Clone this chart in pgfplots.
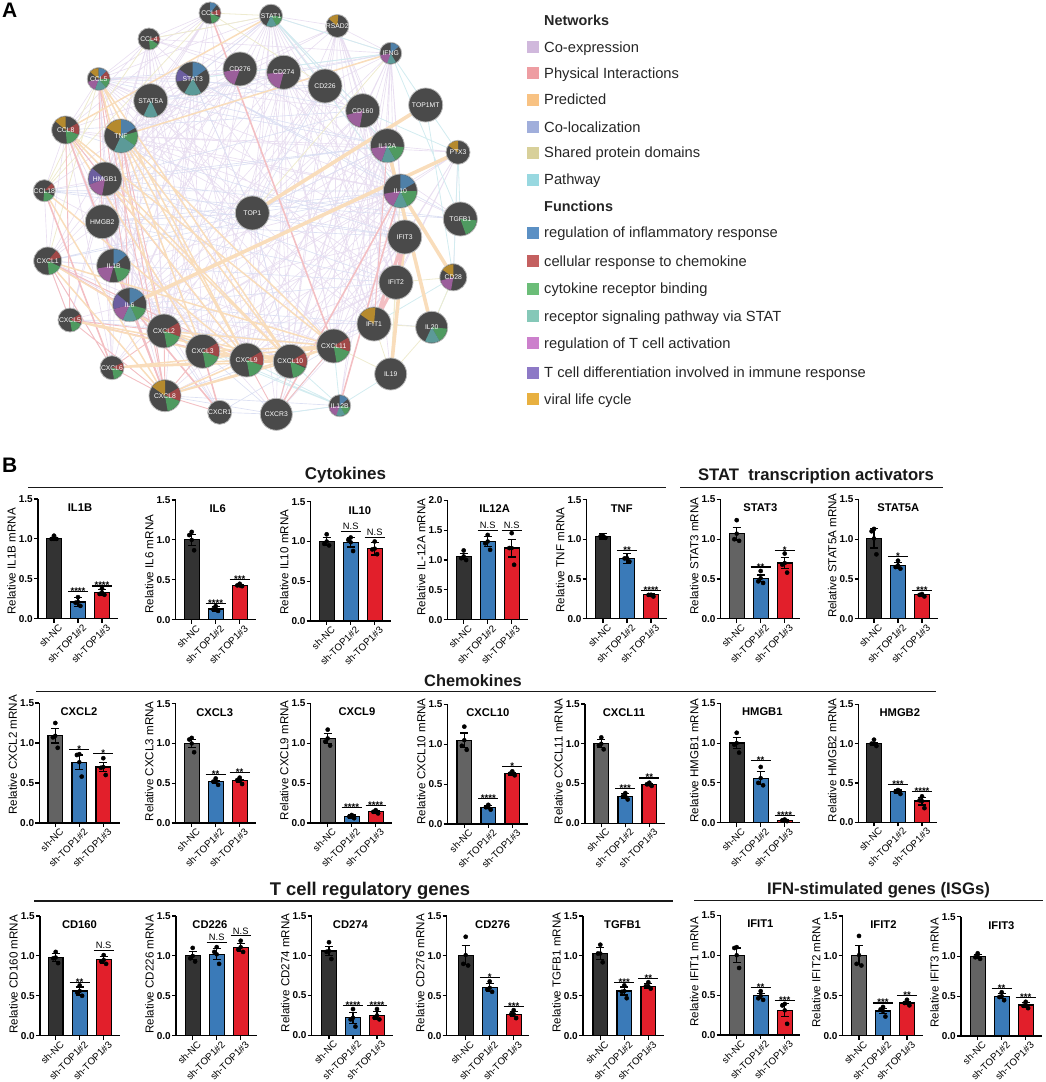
\documentclass[border=0pt]{standalone}
\usepackage{fontspec}
\setmainfont{Liberation Sans}
\usepackage{pgfplots}
\pgfplotsset{compat=1.18}
% ---------- colours
\definecolor{dk}{HTML}{333333}\definecolor{gy}{HTML}{636363}\definecolor{bl}{HTML}{3A7AB8}\definecolor{rd}{HTML}{E21F2B}
\definecolor{eLil}{HTML}{E9DFF1}\definecolor{eBlu}{HTML}{DCE0F3}\definecolor{ePnk}{HTML}{F3BFC3}\definecolor{eOrg}{HTML}{F9DDBB}\definecolor{eYel}{HTML}{EEEBCF}\definecolor{eCya}{HTML}{D3ECF0}
\definecolor{nodeF}{HTML}{4A4A4A}\definecolor{nodeE}{HTML}{B8B8B8}
\definecolor{B}{HTML}{4F80A8}\definecolor{R}{HTML}{A04848}\definecolor{G}{HTML}{4F9A60}\definecolor{T}{HTML}{5C9A98}\definecolor{P}{HTML}{9B5F9B}\definecolor{V}{HTML}{6C5FA0}\definecolor{O}{HTML}{B58A2E}
\definecolor{eLegA}{HTML}{D0B8DC}\definecolor{eLegB}{HTML}{EE9DA2}\definecolor{eLegC}{HTML}{F8C283}\definecolor{eLegD}{HTML}{A0AEDB}\definecolor{eLegE}{HTML}{D8D09A}\definecolor{eLegF}{HTML}{98D8E0}
\definecolor{fLegA}{HTML}{5B90C4}\definecolor{fLegB}{HTML}{C46060}\definecolor{fLegC}{HTML}{6BBD78}\definecolor{fLegD}{HTML}{85C8B8}\definecolor{fLegE}{HTML}{CC80CC}\definecolor{fLegF}{HTML}{8D79C6}\definecolor{fLegG}{HTML}{E8B040}
% ---------- fonts (1pt = 1 reference pixel)
\newcommand\fs[1]{\fontsize{#1}{#1}\selectfont}
% ---------- network
\pgfkeys{/pgf/wa/.initial=0,/pgf/wb/.initial=0}
\pgfdeclareplotmark{wedge}{\pgfpathmoveto{\pgfpointorigin}\pgfpathlineto{\pgfpointpolar{\pgfkeysvalueof{/pgf/wa}}{\pgfplotmarksize}}\pgfpatharc{\pgfkeysvalueof{/pgf/wa}}{\pgfkeysvalueof{/pgf/wb}}{\pgfplotmarksize}\pgfpathclose\pgfusepathqfill}
\newcommand\Nn[4]{\expandafter\gdef\csname x#1\endcsname{#2}\expandafter\gdef\csname y#1\endcsname{#3}\expandafter\gdef\csname r#1\endcsname{#4}}
\Nn{CCL1}{210}{13}{11}\Nn{CCL4}{149}{39}{11}\Nn{CCL5}{98.7}{79}{11.5}\Nn{STAT3}{192.7}{78.7}{17}\Nn{CD276}{240}{69}{17}\Nn{STAT5A}{150.7}{100.7}{17}\Nn{TNF}{121}{136}{17}\Nn{CCL8}{65.7}{130}{14}\Nn{HMGB1}{105}{179}{17}\Nn{CCL18}{44.3}{190.7}{11}
\Nn{STAT1}{271}{15.7}{11.5}\Nn{RSAD2}{337.3}{26}{11.5}\Nn{IFNG}{390.7}{53.3}{11}\Nn{CD274}{283.7}{72.3}{17}\Nn{CD226}{325}{86}{17}\Nn{CD160}{362.7}{110.7}{17}\Nn{TOP1MT}{425.7}{105}{17}\Nn{IL12A}{387.3}{145.7}{17}\Nn{PTX3}{458}{152.3}{12}\Nn{IL10}{400.3}{191}{17}\Nn{TOP1}{252.3}{213}{17}\Nn{TGFB1}{460.3}{219}{17}\Nn{IFIT3}{404.7}{237}{17}\Nn{CD28}{453.3}{277.3}{13.5}\Nn{IFIT2}{396}{282.3}{17}
\Nn{HMGB2}{102.3}{221.7}{17}\Nn{CXCL1}{47.7}{261}{14}\Nn{IL1B}{113.7}{265.7}{17}\Nn{IL6}{129.7}{304.7}{17}\Nn{CXCL5}{70}{320}{12}\Nn{CXCL2}{164}{331}{17}\Nn{CXCL3}{202.7}{351.3}{17}\Nn{CXCL9}{246.7}{360}{17}\Nn{CXCL10}{290.3}{361.3}{17}\Nn{CXCL11}{333.7}{346}{17}\Nn{IFIT1}{374}{324}{17}\Nn{IL20}{431.7}{327.3}{16}\Nn{IL19}{390.7}{374}{16}\Nn{CXCL6}{112}{367.7}{12}\Nn{CXCL8}{165}{395.7}{16}\Nn{CXCR1}{219.7}{412.3}{12}\Nn{CXCR3}{276.3}{414.3}{16}\Nn{IL12B}{339.7}{405.7}{11}
\gdef\pts{}
\newcommand\E[2]{\xdef\pts{\pts (\csname x#1\endcsname,\csname y#1\endcsname)(\csname x#2\endcsname,\csname y#2\endcsname)(nan,nan) }}
\newcommand\Es[2]{\foreach\tgt in {#2}{\E{#1}{\tgt}}}
\newcommand\Eflush[1]{\edef\tmp{\noexpand\addplot[unbounded coords=jump,#1] coordinates {\pts};}\tmp\gdef\pts{}}
\newcommand\W[3]{\pgfmathsetmacro\wr{\nr-0.6}\edef\tmp{\noexpand\addplot[only marks,mark=wedge,mark size=\wr pt,color=#1,/pgf/wa=#2,/pgf/wb=#3] coordinates {(\nx,\ny)};}\tmp}
\newcommand\Nd[2]{\edef\nx{\csname x#1\endcsname}\edef\ny{\csname y#1\endcsname}\edef\nr{\csname r#1\endcsname}%
 \edef\tmp{\noexpand\addplot[only marks,mark=*,mark size=\nr pt,mark options={fill=nodeF,draw=nodeE,line width=0.8pt}] coordinates {(\nx,\ny)};}\tmp #2}
\newcommand\Nl[1]{\foreach\nm in {#1}{\edef\nx{\csname x\nm\endcsname}\edef\ny{\csname y\nm\endcsname}\edef\tmp{\noexpand\node[text=white,font=\noexpand\fs{6.8},inner sep=0pt] at (axis cs:\nx,\ny) {\nm};}\tmp}}
% ---------- legend
\newcommand\Lg[3]{\addplot[only marks,mark=square*,mark size=5.4pt,color=#1] coordinates {(532.8,#2)};\node[anchor=base west,inner sep=0pt,font=\fs{14.7},text=black!85,yshift=-5.3pt] at (axis cs:544,#2) {#3};}
% ---------- section header
\newcommand\Sec[6]{\addplot[black!90,line width=1.4pt] coordinates {(#3,#5)(#4,#5)};\node[font=\bfseries\fs{17},inner sep=0pt,anchor=base,text=black!90] at (axis cs:#1,#2) {#6};}
% ---------- panels
\def\tdx{0}
\pgfplotsset{panel/.style={scale only axis,clip=false,axis x line=bottom,axis y line=left,
 axis line style={-,line width=1.2pt,black},tick style={line width=1.1pt,black},major tick length=4pt,tick align=outside,
 xtick={0,1,2},xticklabels={sh-NC,sh-TOP1\#2,sh-TOP1\#3},
 xticklabel style={font=\fs{9.8},rotate=45,anchor=north east,inner sep=0pt,xshift=2.5pt,yshift=-3pt},
 ytick distance=0.5,
 yticklabel style={font=\bfseries\fs{10},inner sep=1pt,/pgf/number format/.cd,fixed,fixed zerofill,precision=1,assume math mode=true},
 title style={at={(rel axis cs:0.525,1)},anchor=center,yshift=-14.5pt,xshift=\tdx pt,font=\bfseries\fs{11.2},inner sep=0pt}}}
\newcommand\pstart[9]{\pgfmathsetmacro\pw{#3-#1}\pgfmathsetmacro\ph{#5-#4}\pgfmathsetmacro\pb{1082-#5}\pgfmathsetmacro\pxa{(#1-#2)/24}\pgfmathsetmacro\pxb{(#3-#2)/24}%
 \begin{axis}[panel,at={(#1pt,\pb pt)},anchor=south west,width=\pw pt,height=\ph pt,xmin=\pxa,xmax=\pxb,ymin=0,ymax=#6,title={#7},ylabel={#8},
 every axis y label/.style={shift={(-26.5pt,#9pt)},at={(rel axis cs:0,0)},rotate=90,anchor=west,inner sep=0pt,font=\fs{11.6}}]}
\newcommand\pend{\end{axis}}
\newcommand\bb[7]{\pgfmathsetmacro\xa{#1-0.1}\pgfmathsetmacro\xb{#1+0.1}%
 \addplot[ybar,bar shift=0pt,bar width=14.8pt,fill=#2,draw=black,line width=1.2pt] coordinates {(#1,#3)};
 \addplot[only marks,mark=none,draw=none,error bars/.cd,y dir=both,y explicit,error bar style={line width=1.1pt,black},error mark options={rotate=90,mark size=4pt,line width=1.1pt,black}] coordinates {(#1,#3) +- (0,#4)};
 \edef\tmp{\noexpand\addplot[only marks,mark=*,mark size=2.1pt,black] coordinates {(#1,#5)(\xa,#6)(\xb,#7)};}\tmp}
\newcommand\st[3]{\pgfmathsetmacro\xa{#1-0.42}\pgfmathsetmacro\xb{#1+0.42}\edef\tmp{\noexpand\addplot[black,line width=1.1pt] coordinates {(\xa,#2)(\xb,#2)};}\tmp
 \node[anchor=base,font=\bfseries\fs{9.6},inner sep=0pt,yshift=-3pt] at (axis cs:#1,#2) {#3};}
\newcommand\ns[2]{\pgfmathsetmacro\xa{#1-0.42}\pgfmathsetmacro\xb{#1+0.42}\edef\tmp{\noexpand\addplot[black,line width=1.1pt] coordinates {(\xa,#2)(\xb,#2)};}\tmp
 \node[anchor=base,font=\fs{9.3},inner sep=0pt,yshift=1.6pt] at (axis cs:#1,#2) {N.S};}
\pgfplotsset{master/.style={scale only axis,at={(0,0)},anchor=south west,width=1045pt,height=1082pt,xmin=0,xmax=1045,ymin=0,ymax=1082,y dir=reverse,hide axis,clip=false}}
\begin{document}
\begin{tikzpicture}
\useasboundingbox (0,0) rectangle (1045pt,1082pt);
\begin{axis}[master]
% co-expression
\Es{CCL1}{CCL4,CCL5,STAT3,CCL8,TNF,CD276,STAT5A,CXCL9,CXCL2,HMGB1}
\Es{CCL4}{CCL5,STAT3,STAT5A,TNF,CCL8,IL1B,IL6,CXCL2,CXCL3,CXCL9,CXCL10,HMGB1,CD160,CD226,IFNG,STAT1}
\Es{CCL5}{STAT3,STAT5A,TNF,CCL8,HMGB1,IL1B,IL6,CXCL2,CXCL3,CXCL9,CXCL10,CXCL11,CD274,CD160,IFIT3,IFIT2,IFIT1,IL10,STAT1}
\Es{STAT1}{STAT3,STAT5A,TNF,CD274,CD226,CD160,IL12A,IL10,IFIT3,IFIT2,IFIT1,CXCL9,CXCL10,CXCL11,IL6,IL1B,HMGB1,CXCL3,CXCL2,RSAD2,IFNG,TOP1}
\Es{RSAD2}{IFIT3,IFIT2,IFIT1,CXCL9,CXCL10,CXCL11,IFNG,CD274,CD276,IL10,TNF,CD160,IL12A,TOP1,CD226}
\Es{IFNG}{CD274,CD160,CD226,IL12A,IL10,IFIT3,IFIT2,IFIT1,CXCL9,CXCL10,CXCL11,IL12B,TNF,IL6}
\Es{CD274}{CXCL9,CXCL10,CXCL11,IL10,IFIT3,IFIT2,IFIT1,IL6,IL1B,TNF,CXCL2,CXCL3,HMGB1,TOP1,CXCR3}
\Es{CD276}{CXCL1,IL1B,IL6,CXCL2,CXCL3,TNF,HMGB1,HMGB2,IFIT1,TGFB1}
\Es{CD226}{CD160,IL12A,CXCL9,CXCL10,IFIT1,CXCL2,IL6,CXCL6}
\Es{CD160}{IL12A,IL10,IFIT3,IFIT2,IFIT1,CXCL9,CXCL10,CXCL11,CXCR3,CXCL3,CXCL6,TOP1,IL19}
\Es{IL12A}{CXCL9,CXCL10,CXCL11,IFIT1,CXCR3,TNF,IL6,CXCL3,CXCL2,IL12B,PTX3,TOP1}
\Es{PTX3}{IL10,IFIT3,IFIT2,CXCL11,CXCL2,IL6,TNF,CD28,IFIT1}
\Es{IL10}{CXCL9,CXCL10,CXCL11,IL6,IL1B,CXCL2,CXCL3,TNF,IFIT1,IFIT2,CCL8,CXCL8,TGFB1}
\Es{IFIT3}{IFIT2,IFIT1,CXCL9,CXCL10,CXCL11,CXCL2,TNF,IL6,CXCL3}
\Es{IFIT2}{CXCL9,CXCL10,CXCL11,CXCL3,CXCL8,TNF,CXCR3}
\Es{TNF}{STAT3,STAT5A,CCL8,HMGB1,HMGB2,IL1B,IL6,CXCL1,CXCL2,CXCL3,CXCL5,CXCL6,CXCL8,CXCL9,CXCL10,CXCL11,IFIT1,CCL18}
\Es{STAT3}{STAT5A,HMGB1,HMGB2,IL1B,IL6,CXCL1,CXCL2,CXCL3,CXCL8,CXCL9,CD276,TOP1,IFIT1}
\Es{STAT5A}{HMGB1,IL6,CXCL2,CXCL3,CXCL9,CXCL11,CD274,TOP1,IL1B,CCL8}
\Es{CCL8}{CCL18,HMGB1,HMGB2,CXCL1,CXCL2,CXCL3,CXCL5,CXCL6,CXCL9,CXCL10,CXCL11,IL1B,IL6}
\Es{HMGB1}{HMGB2,CCL18,IL1B,IL6,CXCL2,CXCL5,CXCL6,CXCL8,CXCL3,CXCR1}
\Es{HMGB2}{CCL18,CXCL1,IL1B,IL6,CXCL2,CXCL6,CXCL8,CXCR1,CXCR3}
\Es{CXCL1}{CCL18,CXCL5,CXCL6,IL1B,IL6,CXCL2,CXCL3,CXCL8,CXCL9,CXCL10}
\Es{CXCL11}{CXCL9,CXCL10,CXCL3,CXCL2,IL6,IL1B,IFIT1}
\Es{IL6}{IL1B,CXCL2,CXCL3,CXCL5,CXCL6,CXCL8,CXCL9,CXCL10,CXCR1}
\Es{TOP1}{CXCL3,CXCL9,CXCL10,CXCR3,IL6,HMGB2}
\Eflush{color=eLil,line width=0.65pt}
% co-localization
\Es{TOP1}{HMGB2,IL10,IFIT3,HMGB1,CXCL1,STAT3,IL12A,CD226,CXCL10}
\Es{HMGB2}{IFIT3,IL10,IFIT2}
\Es{HMGB1}{CD160,IL12A,TGFB1,IFIT2}
\Es{CXCL1}{IFIT2,IL10}
\Es{CCL18}{TGFB1,IL10,IL12A,IFIT3}
\Es{STAT3}{IL10,IFNG,CD160,TGFB1,STAT1}
\Es{STAT5A}{IL12A,CD226,IFNG}
\Es{CCL5}{CD276,IL12A,CD226}
\Es{CCL8}{CD160,IFIT3}
\Es{IL6}{IFIT2,IL20}
\Es{CXCL5}{IFIT1,CXCL11}
\Es{CXCL8}{CXCL11,IL12B,CXCR3,IFIT1}
\Es{CXCR1}{CXCL11,CXCR3,CXCL2}
\Es{CXCR3}{IL12B,CXCL3}
\Eflush{color=eBlu,line width=0.65pt}
% pathway
\Es{IFNG}{TOP1MT,TGFB1,PTX3,STAT3,STAT1}
\Es{PTX3}{TGFB1,TOP1MT,CD160,CD28}
\Es{IL12B}{CXCL9,CXCL10,CXCL11,CXCR3,IL19,CXCL3,CXCL2}
\Es{STAT1}{IL12A,CD160,IL10}
\Es{CD28}{TOP1MT,IL20,IFIT1}
\Es{CXCR3}{CXCL10,CXCL11}
\Eflush{color=eCya,line width=0.8pt}
% shared domains
\Es{IL19}{IL20,IL10,CXCL11,IFIT2}
\Es{IFIT1}{IFIT3,IL19,IL20}
\Es{CCL1}{STAT1,CCL18,CD226}
\Es{CCL4}{STAT1,CCL18}
\Es{CCL5}{CCL18,CXCL1}
\Es{TOP1}{IFNG}
\Es{CD28}{IL20,IFIT2}
\Eflush{color=eYel,line width=0.8pt}
% physical, thin
\Es{CCL5}{HMGB2,IL6,CXCL2,CXCL8}
\Es{CCL8}{CXCL5,CXCL3,CXCL9}
\Es{TNF}{IL6,CXCL2,CXCL8}
\Es{CXCL1}{CXCL2,CXCL3,CXCL9,CXCL6,CXCL5}
\Es{CXCL5}{CXCL2,CXCL3,CXCL9,CXCL8}
\Es{CXCL6}{CXCL2,CXCL8}
\Es{IL1B}{IL6,CXCL8}
\Es{CXCL8}{CXCR1,CXCL2,CXCL3}
\Es{CXCR3}{CXCL9,CXCL10,CXCL11}
\Es{IFIT1}{IL12A}
\Eflush{color=ePnk,line width=0.9pt}
\Es{CXCR1}{CXCL3,IL6}
\Es{IL10}{IL12B,CXCR3}
\Es{CCL1}{CXCL11}
\Es{CCL8}{CXCL8}
\Es{CCL18}{CXCL6}
\Eflush{color=ePnk,line width=1.6pt}
% predicted, thin
\Es{CCL5}{CXCL2,CXCL9,CXCL10}
\Es{CCL8}{CXCL3,CXCL11,CXCL10}
\Es{TNF}{CXCL10,CXCL11,CXCL9,CXCL3}
\Es{HMGB1}{CXCL10,CXCL9}
\Es{CXCL1}{CXCL8,CXCL11,CXCL2}
\Es{CCL18}{CXCL8,CXCL9}
\Es{CXCL8}{CXCL10,CXCL9,CXCL11}
\Es{CXCL6}{CXCL10,CXCL11,CXCL9}
\Es{CXCL5}{CXCL3,CXCL10}
\Es{CXCL2}{CXCL3,CXCL9,CXCL10,CXCL11}
\Es{CXCL3}{CXCL9,CXCL10,CXCL11}
\Es{CXCL9}{CXCL10,CXCL11}
\Es{CXCL10}{CXCL11}
\Es{STAT1}{CCL8}
\Es{IFNG}{TNF}
\Eflush{color=eOrg,line width=1.5pt}
% predicted, thick
\Es{TOP1}{TOP1MT}
\Es{IL6}{PTX3}
\Es{IFIT3}{IL19}
\Es{IL12A}{IL20}
\Es{IL10}{CD28}
\Eflush{color=eOrg,line width=3.6pt}
\Es{IFIT1}{IFIT2}
\Es{IFIT2}{IFIT3}
\Es{IFIT1}{IFIT3}
\Eflush{color=ePnk,line width=3.2pt}
% nodes
\Nd{CCL1}{\W{B}{90}{50}\W{R}{20}{-15}\W{G}{-25}{-80}}
\Nd{CCL4}{\W{R}{15}{-15}\W{G}{-30}{-85}}
\Nd{CCL5}{\W{O}{140}{90}\W{B}{90}{45}\W{R}{45}{0}\W{G}{0}{-50}\W{T}{-50}{-110}\W{P}{-110}{-165}}
\Nd{STAT3}{\W{B}{90}{35}\W{T}{-60}{-120}\W{V}{190}{145}}
\Nd{CD276}{\W{P}{190}{250}}
\Nd{STAT5A}{\W{T}{-65}{-115}}
\Nd{TNF}{\W{O}{150}{90}\W{B}{90}{30}\W{G}{15}{-35}\W{T}{-35}{-115}}
\Nd{CCL8}{\W{O}{140}{90}\W{R}{30}{-20}\W{G}{-20}{-85}}
\Nd{HMGB1}{\W{V}{200}{140}\W{P}{260}{200}}
\Nd{CCL18}{\W{R}{45}{15}\W{G}{-30}{-95}}
\Nd{STAT1}{\W{G}{-5}{-60}\W{T}{-60}{-115}}
\Nd{RSAD2}{\W{O}{140}{85}}
\Nd{IFNG}{\W{B}{90}{40}\W{T}{-60}{-115}\W{P}{250}{190}}
\Nd{CD274}{\W{P}{185}{255}}
\Nd{CD226}{}
\Nd{CD160}{\W{P}{195}{260}}
\Nd{TOP1MT}{}
\Nd{IL12A}{\W{P}{190}{250}\W{T}{250}{300}\W{G}{300}{355}}
\Nd{PTX3}{\W{O}{145}{90}}
\Nd{IL10}{\W{B}{90}{30}\W{G}{0}{-65}\W{T}{-65}{-115}\W{P}{245}{190}}
\Nd{TOP1}{}
\Nd{TGFB1}{\W{G}{-5}{-70}}
\Nd{IFIT3}{}
\Nd{CD28}{\W{O}{145}{90}\W{P}{260}{195}}
\Nd{IFIT2}{}
\Nd{HMGB2}{}
\Nd{CXCL1}{\W{R}{50}{15}\W{G}{-25}{-85}}
\Nd{IL1B}{\W{B}{90}{40}\W{G}{-15}{-75}\W{P}{255}{190}}
\Nd{IL6}{\W{B}{90}{35}\W{G}{-15}{-65}\W{T}{-65}{-115}\W{P}{245}{195}\W{V}{195}{140}}
\Nd{CXCL5}{\W{R}{30}{-15}\W{G}{-20}{-80}}
\Nd{CXCL2}{\W{R}{30}{-20}\W{G}{-20}{-80}}
\Nd{CXCL3}{\W{R}{30}{-20}\W{G}{-20}{-80}}
\Nd{CXCL9}{\W{R}{30}{-20}\W{G}{-20}{-80}}
\Nd{CXCL10}{\W{R}{30}{-20}\W{G}{-25}{-80}}
\Nd{CXCL11}{\W{R}{30}{-20}\W{G}{-20}{-80}}
\Nd{IFIT1}{\W{O}{145}{85}}
\Nd{IL20}{\W{G}{-5}{-60}\W{T}{-60}{-115}}
\Nd{IL19}{}
\Nd{CXCL6}{\W{R}{25}{-15}\W{G}{-20}{-80}}
\Nd{CXCL8}{\W{O}{145}{90}\W{R}{30}{-20}\W{G}{-20}{-80}}
\Nd{CXCR1}{}
\Nd{CXCR3}{}
\Nd{IL12B}{\W{B}{90}{40}\W{G}{-10}{-60}\W{T}{-60}{-115}\W{P}{250}{190}}
% legend squares
\Lg{eLegA}{47}{Co-expression}
\Lg{eLegB}{73}{Physical Interactions}
\Lg{eLegC}{99.6}{Predicted}
\Lg{eLegD}{127}{Co-localization}
\Lg{eLegE}{152.6}{Shared protein domains}
\Lg{eLegF}{179.4}{Pathway}
\Lg{fLegA}{232.4}{regulation of inflammatory response}
\Lg{fLegB}{261}{cellular response to chemokine}
\Lg{fLegC}{288.5}{cytokine receptor binding}
\Lg{fLegD}{316}{receptor signaling pathway via STAT}
\Lg{fLegE}{343}{regulation of T cell activation}
\Lg{fLegF}{372.5}{T cell differentiation involved in immune response}
\Lg{fLegG}{399}{viral life cycle}
% section headers
\Sec{345.5}{479.5}{28}{666}{487.3}{Cytokines}
\Sec{816}{480}{680}{943}{487.3}{\fs{16.7}STAT~~transcription activators}
\Sec{473}{686.7}{36}{936}{691.7}{\fs{16.4}Chemokines}
\Sec{370}{895.7}{34}{672.7}{901}{\fs{18.4}T cell regulatory genes}
\Sec{878.5}{894}{694}{1043}{900.7}{\fs{16.7}IFN-stimulated genes (ISGs)}
% panel letters
\node[font=\bfseries\fs{21},anchor=base west,inner sep=0pt] at (axis cs:2,17.5) {A};
\node[font=\bfseries\fs{21},anchor=base west,inner sep=0pt] at (axis cs:2,472.5) {B};
\node[anchor=base west,inner sep=0pt,font=\bfseries\fs{14.4},text=black!85,yshift=-5.3pt] at (axis cs:544,20.7) {Networks};
\node[anchor=base west,inner sep=0pt,font=\bfseries\fs{14.4},text=black!85,yshift=-5.3pt] at (axis cs:544,206) {Functions};
\end{axis}
% node labels sit on a second hidden axis so that they lie above the node marks
\begin{axis}[master]
\Nl{CCL1,CCL4,CCL5,STAT3,CD276,STAT5A,TNF,CCL8,HMGB1,CCL18,STAT1,RSAD2,IFNG,CD274,CD226,CD160,TOP1MT,IL12A,PTX3,IL10,TOP1,TGFB1,IFIT3,CD28,IFIT2,HMGB2,CXCL1,IL1B,IL6,CXCL5,CXCL2,CXCL3,CXCL9,CXCL10,CXCL11,IFIT1,IL20,IL19,CXCL6,CXCL8,CXCR1,CXCR3,IL12B}
\end{axis}
% ---- row 1
\def\tdx{0}\pstart{38}{54}{118}{499}{618.7}{1.5}{IL1B}{Relative IL1B mRNA}{4}
\bb{0}{dk}{1.0}{0.02}{1.04}{1.0}{1.0}\bb{1}{bl}{0.21}{0.06}{0.27}{0.2}{0.16}\bb{2}{rd}{0.33}{0.04}{0.38}{0.31}{0.3}\st{1}{0.34}{****}\st{2}{0.41}{****}\pend
\def\tdx{0}\pstart{175.7}{191.7}{255.7}{500}{619.7}{1.5}{IL6}{Relative IL6 mRNA}{6}
\bb{0}{dk}{1.0}{0.07}{1.1}{1.06}{0.87}\bb{1}{bl}{0.135}{0.03}{0.17}{0.13}{0.11}\bb{2}{rd}{0.43}{0.01}{0.45}{0.43}{0.42}\st{1}{0.2}{****}\st{2}{0.5}{***}\pend
\def\tdx{7}\pstart{310.7}{326.7}{391}{501.7}{621}{1.5}{IL10}{Relative IL10 mRNA}{6}
\bb{0}{dk}{1.0}{0.05}{1.09}{0.97}{0.95}\bb{1}{bl}{0.99}{0.06}{1.05}{1.02}{0.88}\bb{2}{rd}{0.91}{0.08}{1.0}{0.9}{0.84}\ns{1}{1.125}\ns{2}{1.055}\pend
\def\tdx{5}\pstart{447.7}{463.7}{527.7}{500.3}{619.7}{2.0}{IL12A}{Relative IL-12A mRNA}{4}
\bb{0}{dk}{1.06}{0.05}{1.16}{1.03}{1.0}\bb{1}{bl}{1.31}{0.09}{1.42}{1.28}{1.17}\bb{2}{rd}{1.2}{0.15}{1.45}{1.2}{0.92}\ns{1}{1.5}\ns{2}{1.5}\pend
\def\tdx{-7}\pstart{586.7}{603}{666.7}{499.7}{618.7}{1.5}{TNF}{Relative TNF mRNA}{6}
\bb{0}{dk}{1.04}{0.035}{1.04}{1.04}{1.02}\bb{1}{bl}{0.76}{0.06}{0.76}{0.76}{0.72}\bb{2}{rd}{0.3}{0.02}{0.3}{0.3}{0.28}\st{1}{0.86}{**}\st{2}{0.35}{****}\pend
\def\tdx{-2}\pstart{720.7}{736.7}{800}{499.5}{618.7}{1.5}{STAT3}{Relative STAT3 mRNA}{4}
\bb{0}{gy}{1.07}{0.08}{1.24}{1.0}{0.98}\bb{1}{bl}{0.51}{0.04}{0.6}{0.47}{0.45}\bb{2}{rd}{0.7}{0.07}{0.82}{0.68}{0.58}\st{1}{0.65}{**}\st{2}{0.86}{*}\pend
\def\tdx{-2}\pstart{858.7}{874}{938}{499.5}{618.7}{1.5}{STAT5A}{Relative STAT5A mRNA}{0.5}
\bb{0}{dk}{1.01}{0.12}{1.13}{1.1}{0.81}\bb{1}{bl}{0.67}{0.04}{0.73}{0.65}{0.63}\bb{2}{rd}{0.3}{0.01}{0.31}{0.3}{0.28}\st{1}{0.78}{*}\st{2}{0.36}{***}\pend
% ---- row 2
\def\tdx{-2.7}\pstart{39.3}{55.3}{120}{703}{823}{1.5}{CXCL2}{Relative CXCL2 mRNA}{8}
\bb{0}{gy}{1.09}{0.09}{1.25}{1.07}{0.94}\bb{1}{bl}{0.76}{0.09}{0.86}{0.85}{0.58}\bb{2}{rd}{0.7}{0.06}{0.81}{0.69}{0.6}\st{1}{0.92}{*}\st{2}{0.87}{*}\pend
\def\tdx{-3}\pstart{175.7}{191.7}{255.7}{703.7}{823}{1.5}{CXCL3}{Relative CXCL3 mRNA}{1.5}
\bb{0}{gy}{1.0}{0.05}{1.07}{1.05}{0.89}\bb{1}{bl}{0.52}{0.02}{0.56}{0.52}{0.48}\bb{2}{rd}{0.53}{0.02}{0.57}{0.54}{0.49}\st{1}{0.61}{**}\st{2}{0.63}{**}\pend
\def\tdx{3.5}\pstart{310.7}{327.7}{392}{703.3}{823}{1.5}{CXCL9}{Relative CXCL9 mRNA}{2.5}
\bb{0}{gy}{1.06}{0.06}{1.17}{1.02}{0.97}\bb{1}{bl}{0.08}{0.02}{0.1}{0.08}{0.06}\bb{2}{rd}{0.14}{0.02}{0.16}{0.14}{0.12}\st{1}{0.19}{****}\st{2}{0.22}{****}\pend
\def\tdx{-2}\pstart{447.7}{464.3}{528}{704.3}{824}{1.5}{CXCL10}{Relative CXCL10 mRNA}{-1}
\bb{0}{gy}{1.05}{0.09}{1.22}{0.98}{0.93}\bb{1}{bl}{0.21}{0.02}{0.24}{0.21}{0.18}\bb{2}{rd}{0.63}{0.02}{0.66}{0.63}{0.61}\st{1}{0.32}{****}\st{2}{0.72}{*}\pend
\def\tdx{-3}\pstart{585}{601.3}{665}{704}{823.3}{1.5}{CXCL11}{Relative CXCL11 mRNA}{-1}
\bb{0}{gy}{1.0}{0.05}{1.08}{0.98}{0.93}\bb{1}{bl}{0.34}{0.03}{0.38}{0.34}{0.3}\bb{2}{rd}{0.49}{0.01}{0.51}{0.49}{0.47}\st{1}{0.44}{***}\st{2}{0.57}{**}\pend
\def\tdx{0}\pstart{720.7}{736.7}{800}{703.3}{822.7}{1.5}{HMGB1}{Relative HMGB1 mRNA}{0}
\bb{0}{dk}{1.0}{0.07}{1.13}{0.98}{0.88}\bb{1}{bl}{0.56}{0.08}{0.7}{0.5}{0.47}\bb{2}{rd}{0.03}{0.01}{0.04}{0.03}{0.02}\st{1}{0.78}{**}\st{2}{0.09}{****}\pend
\def\tdx{0}\pstart{858.7}{874}{937}{704.3}{822.3}{1.5}{HMGB2}{Relative HMGB2 mRNA}{0}
\bb{0}{dk}{1.0}{0.02}{1.05}{1.0}{0.97}\bb{1}{bl}{0.39}{0.02}{0.41}{0.39}{0.36}\bb{2}{rd}{0.27}{0.05}{0.33}{0.28}{0.18}\st{1}{0.48}{***}\st{2}{0.39}{****}\pend
% ---- row 3
\def\tdx{-2.5}\pstart{40}{55.7}{120}{916}{1035.7}{1.5}{CD160}{Relative CD160 mRNA}{2}
\bb{0}{dk}{0.98}{0.05}{1.05}{0.97}{0.91}\bb{1}{bl}{0.56}{0.05}{0.63}{0.54}{0.5}\bb{2}{rd}{0.95}{0.04}{1.01}{0.93}{0.9}\st{1}{0.67}{**}\ns{2}{1.07}\pend
\def\tdx{-8.5}\pstart{176}{192.7}{256.7}{916}{1035.7}{1.5}{CD226}{Relative CD226 mRNA}{2}
\bb{0}{dk}{1.0}{0.05}{1.1}{0.97}{0.93}\bb{1}{bl}{1.02}{0.07}{1.11}{1.05}{0.9}\bb{2}{rd}{1.11}{0.05}{1.19}{1.08}{1.05}\ns{1}{1.17}\ns{2}{1.25}\pend
\def\tdx{-4}\pstart{311.7}{329}{393}{916}{1035.3}{1.5}{CD274}{Relative CD274 mRNA}{3}
\bb{0}{dk}{1.06}{0.06}{1.17}{1.05}{0.96}\bb{1}{bl}{0.22}{0.07}{0.33}{0.2}{0.11}\bb{2}{rd}{0.25}{0.05}{0.33}{0.22}{0.2}\st{1}{0.38}{****}\st{2}{0.38}{****}\pend
\def\tdx{2.7}\pstart{446.7}{465.7}{529}{916}{1035.7}{1.5}{CD276}{Relative CD276 mRNA}{3}
\bb{0}{dk}{1.01}{0.12}{1.24}{0.9}{0.88}\bb{1}{bl}{0.6}{0.05}{0.68}{0.58}{0.55}\bb{2}{rd}{0.27}{0.03}{0.32}{0.27}{0.22}\st{1}{0.73}{*}\st{2}{0.37}{***}\pend
\def\tdx{-3}\pstart{583}{600.3}{664}{916}{1035.7}{1.5}{TGFB1}{Relative TGFB1 mRNA}{3}
\bb{0}{dk}{1.03}{0.07}{1.14}{1.03}{0.92}\bb{1}{bl}{0.56}{0.05}{0.63}{0.55}{0.47}\bb{2}{rd}{0.62}{0.03}{0.67}{0.62}{0.59}\st{1}{0.67}{***}\st{2}{0.72}{**}\pend
\def\tdx{-2}\pstart{720.7}{736.7}{800}{915.3}{1035}{1.5}{IFIT1}{Relative IFIT1 mRNA}{8}
\bb{0}{gy}{1.0}{0.09}{1.1}{1.09}{0.84}\bb{1}{bl}{0.49}{0.03}{0.55}{0.46}{0.44}\bb{2}{rd}{0.31}{0.08}{0.39}{0.37}{0.14}\st{1}{0.59}{**}\st{2}{0.43}{***}\pend
\def\tdx{-1.3}\pstart{842.7}{859}{922.7}{916}{1035.7}{1.5}{IFIT2}{Relative IFIT2 mRNA}{8}
\bb{0}{gy}{1.01}{0.12}{1.25}{0.9}{0.88}\bb{1}{bl}{0.31}{0.03}{0.36}{0.33}{0.24}\bb{2}{rd}{0.41}{0.02}{0.45}{0.41}{0.38}\st{1}{0.41}{***}\st{2}{0.5}{**}\pend
\def\tdx{-2}\pstart{961}{977.7}{1041.7}{916.7}{1036}{1.5}{IFIT3}{Relative IFIT3 mRNA}{8}
\bb{0}{gy}{1.0}{0.03}{1.04}{0.99}{0.97}\bb{1}{bl}{0.5}{0.03}{0.55}{0.49}{0.45}\bb{2}{rd}{0.39}{0.03}{0.43}{0.38}{0.35}\st{1}{0.6}{**}\st{2}{0.48}{***}\pend
\end{tikzpicture}
\end{document}
